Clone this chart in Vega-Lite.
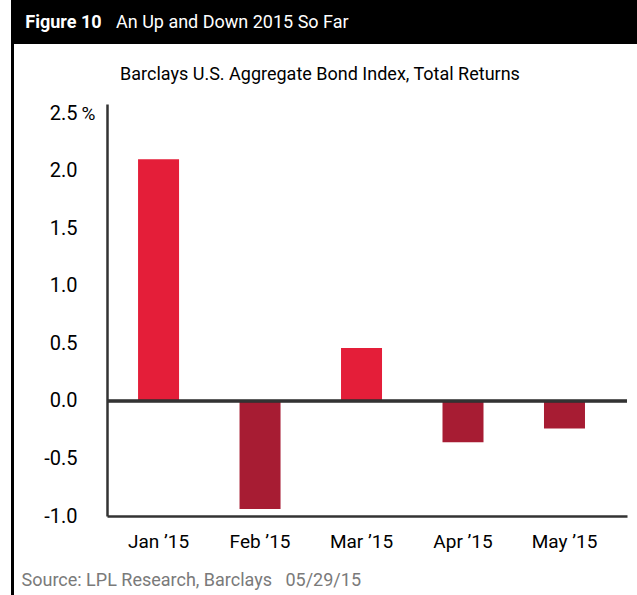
{
  "$schema": "https://vega.github.io/schema/vega-lite/v6.json",
  "padding": {"left": 11, "top": 0, "right": 0, "bottom": 0},
  "background": "white",
  "config": {
    "font": "Roboto",
    "view": {"stroke": null}
  },
  "columns": 3,
  "spacing": 0,
  "bounds": "flush",
  "concat": [
    {
      "width": 3, "height": 44,
      "data": {"values": [{}]},
      "mark": {"type": "point", "opacity": 0, "size": 0},
      "encoding": {},
      "view": {"fill": "black", "stroke": null}
    },
    {
      "width": 93, "height": 44,
      "data": {"values": [{"label": "Figure 10"}]},
      "mark": {"type": "text", "color": "white", "fontSize": 18, "fontWeight": "bold", "align": "center", "baseline": "middle", "dx": 3, "dy": 1},
      "encoding": {"text": {"field": "label"}},
      "view": {"fill": "black", "stroke": null}
    },
    {
      "width": 530, "height": 44,
      "data": {"values": [{"label": "An Up and Down 2015 So Far"}]},
      "mark": {"type": "text", "color": "white", "fontSize": 18, "fontWeight": "normal", "align": "left", "baseline": "middle", "dx": 9, "dy": 1},
      "encoding": {
        "x": {"datum": 0, "type": "quantitative", "scale": {"domain": [0, 1]}, "axis": null},
        "text": {"field": "label"}
      },
      "view": {"fill": "black", "stroke": null}
    },
    {
      "width": 3, "height": 60,
      "data": {"values": [{}]},
      "mark": {"type": "point", "opacity": 0, "size": 0},
      "encoding": {},
      "view": {"fill": "black", "stroke": null}
    },
    {
      "width": 93, "height": 60,
      "data": {"values": [{}]},
      "mark": {"type": "point", "opacity": 0, "size": 0},
      "encoding": {}
    },
    {
      "width": 426, "height": 60,
      "data": {"values": [{"label": "Barclays U.S. Aggregate Bond Index, Total Returns"}]},
      "mark": {"type": "text", "color": "black", "fontSize": 18, "align": "center", "baseline": "middle", "dy": 1},
      "encoding": {"text": {"field": "label"}}
    },
    {
      "width": 3, "height": 491,
      "data": {"values": [{}]},
      "mark": {"type": "point", "opacity": 0, "size": 0},
      "encoding": {},
      "view": {"fill": "black", "stroke": null}
    },
    {
      "width": 93, "height": 412,
      "data": {"values": [{}]},
      "mark": {"type": "point", "opacity": 0, "size": 0},
      "encoding": {}
    },
    {
      "width": 520,
      "height": 412,
      "data": {
        "values": [
          {"month": "Jan ’15", "ret": 2.10},
          {"month": "Feb ’15", "ret": -0.94},
          {"month": "Mar ’15", "ret": 0.46},
          {"month": "Apr ’15", "ret": -0.36},
          {"month": "May ’15", "ret": -0.24}
        ]
      },
      "layer": [
        {
          "mark": {"type": "bar"},
          "encoding": {
            "x": {
              "field": "month",
              "type": "nominal",
              "sort": null,
              "scale": {"paddingInner": 0.596, "paddingOuter": 0.36, "align": 0.425},
              "axis": {
                "title": "Source: LPL Research, Barclays\u00a0\u00a0\u00a005/29/15",
                "titleFontSize": 18,
                "titleFontWeight": "normal",
                "titleColor": "#7a7a7a",
                "titleAnchor": "start",
                "titleAlign": "left",
                "titleX": -86,
                "titleY": 69,
                "titleBaseline": "alphabetic",
                "labelAngle": 0,
                "labelFontSize": 19,
                "labelColor": "black",
                "labelPadding": 16,
                "labelBaseline": "top",
                "ticks": false,
                "tickSize": 0,
                "domainColor": "#333333",
                "domainWidth": 2.5,
                "grid": false
              }
            },
            "y": {
              "field": "ret",
              "type": "quantitative",
              "scale": {"domain": [-1, 2.58], "nice": false, "zero": false},
              "axis": {
                "title": "%",
                "titleAngle": 0,
                "titleAlign": "left",
                "titleBaseline": "middle",
                "titleX": -26,
                "titleY": 9,
                "titleFontSize": 19,
                "titleFontWeight": "normal",
                "titleColor": "black",
                "values": [-1, -0.5, 0, 0.5, 1, 1.5, 2, 2.5],
                "labelExpr": "datum.value < 0 ? '-' + format(-datum.value, '.1f') : format(datum.value, '.1f')",
                "labelFontSize": 20,
                "labelColor": "black",
                "labelPadding": 30,
                "ticks": false,
                "tickSize": 0,
                "domainColor": "#333333",
                "domainWidth": 2.5,
                "grid": false
              }
            },
            "y2": {"datum": 0},
            "color": {
              "condition": {"test": "datum.ret >= 0", "value": "#E41E39"},
              "value": "#A71C33"
            }
          }
        },
        {
          "mark": {"type": "rule", "color": "#333333", "strokeWidth": 2.5},
          "encoding": {"y": {"datum": 0}}
        }
      ]
    }
  ]
}
